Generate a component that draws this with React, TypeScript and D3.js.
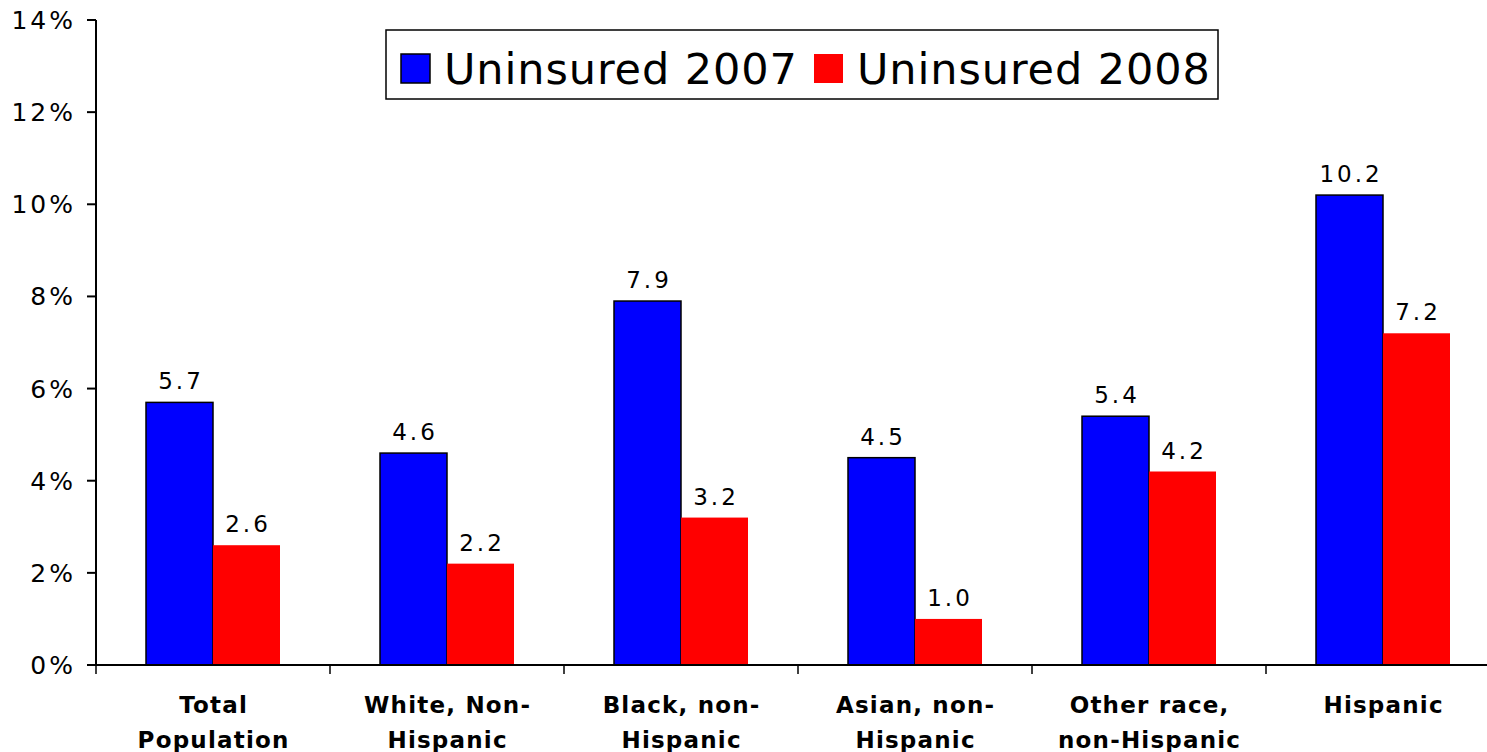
import React from "react";
import * as d3 from "d3";

const categories = [
  ["Total", "Population"],
  ["White, Non-", "Hispanic"],
  ["Black, non-", "Hispanic"],
  ["Asian, non-", "Hispanic"],
  ["Other race,", "non-Hispanic"],
  ["Hispanic"],
];
const uninsured2007 = [5.7, 4.6, 7.9, 4.5, 5.4, 10.2];
const uninsured2008 = [2.6, 2.2, 3.2, 1.0, 4.2, 7.2];
const yTicks = [0, 2, 4, 6, 8, 10, 12, 14];
const seriesNames = ["Uninsured 2007", "Uninsured 2008"];
const seriesColors = ["#0000ff", "#ff0000"];

const W = 1487;
const H = 752;
const FONT = "'DejaVu Sans', Verdana, sans-serif";

export default function App() {
  const x0 = 96;
  const x1 = 96 + 234 * 6;
  const yTop = 20;
  const yBot = 665;
  const y = d3.scaleLinear().domain([0, 14]).range([yBot, yTop]);
  const xBand = d3
    .scaleBand<number>()
    .domain(d3.range(categories.length))
    .range([x0, x1])
    .paddingInner(0)
    .paddingOuter(0);
  const bw = xBand.bandwidth();
  const barW = 67;
  const series = [uninsured2007, uninsured2008];
  const valLS = 3;
  const tickLS = 3;
  const catLS = 1.2;
  const legLS = 0.9;

  return (
    <svg
      width={W}
      height={H}
      style={{ position: "absolute", left: 0, top: 0, background: "#fff" }}
      fontFamily={FONT}
    >
      {/* bars */}
      {series.map((vals, si) =>
        vals.map((v, i) => {
          const cx = (xBand(i) as number) + bw / 2;
          const bx = cx - barW + si * barW;
          return (
            <g key={`${si}-${i}`}>
              <rect
                x={bx}
                y={y(v)}
                width={barW}
                height={yBot - y(v)}
                fill={seriesColors[si]}
                stroke={si === 0 ? "#000" : "none"}
                strokeWidth={1.5}
              />
              <text
                x={bx + barW / 2 + valLS / 2}
                y={y(v) - 13}
                textAnchor="middle"
                fontSize={23}
                letterSpacing={valLS}
                fill="#000"
              >
                {v.toFixed(1)}
              </text>
            </g>
          );
        })
      )}
      {/* y axis */}
      <line x1={x0} x2={x0} y1={yTop} y2={yBot} stroke="#000" strokeWidth={2} />
      {yTicks.map((t) => (
        <g key={t}>
          <line x1={x0 - 9} x2={x0} y1={y(t)} y2={y(t)} stroke="#000" strokeWidth={2} />
          <text
            x={73 + tickLS}
            y={y(t)}
            dy="0.36em"
            textAnchor="end"
            fontSize={25}
            letterSpacing={tickLS}
            fill="#000"
          >
            {t}%
          </text>
        </g>
      ))}
      {/* x axis */}
      <line x1={x0} x2={x1} y1={yBot} y2={yBot} stroke="#000" strokeWidth={2} />
      {d3.range(categories.length + 1).map((i) => {
        const tx = i < categories.length ? (xBand(i) as number) : x1;
        return (
          <line key={i} x1={tx} x2={tx} y1={yBot} y2={yBot + 9} stroke="#000" strokeWidth={1.5} />
        );
      })}
      {categories.map((lines, i) => {
        const cx = (xBand(i) as number) + bw / 2 + catLS / 2;
        return (
          <text
            key={i}
            textAnchor="middle"
            fontSize={23}
            fontWeight="bold"
            letterSpacing={catLS}
            fill="#000"
          >
            {lines.map((l, j) => (
              <tspan key={j} x={cx} y={713 + j * 35}>
                {l}
              </tspan>
            ))}
          </text>
        );
      })}
      {/* legend */}
      <rect x={386} y={30} width={832} height={69} fill="#fff" stroke="#000" strokeWidth={1.5} />
      {seriesNames.map((n, i) => {
        const sx = i === 0 ? 401 : 814;
        return (
          <g key={n}>
            <rect
              x={sx}
              y={54}
              width={29}
              height={29}
              fill={seriesColors[i]}
              stroke={i === 0 ? "#000" : "none"}
              strokeWidth={1.5}
            />
            <text x={sx + 43} y={84} fontSize={43} letterSpacing={legLS} fill="#000">
              {n}
            </text>
          </g>
        );
      })}
    </svg>
  );
}
